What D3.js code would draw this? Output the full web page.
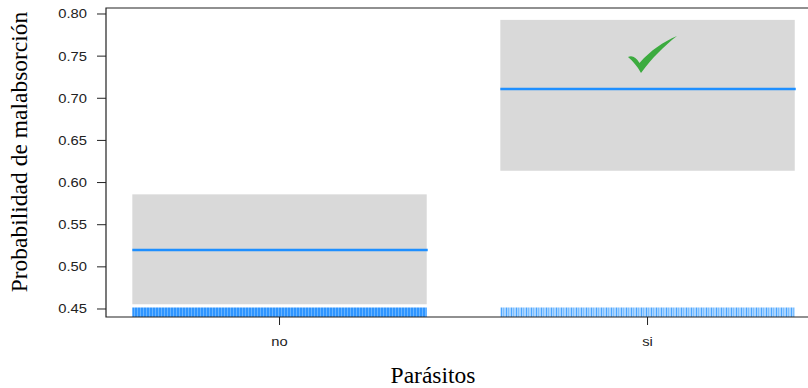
<!DOCTYPE html>
<html>
<head>
<meta charset="utf-8">
<script src="https://cdn.jsdelivr.net/npm/d3@7"></script>
<style>
  body { margin: 0; background: #fff; }
  svg { display: block; }
</style>
</head>
<body>
<svg id="chart" width="808" height="388"></svg>
<script>
// data
const categories = ["no", "si"];
const fit = [0.520, 0.711];
const lower = [0.4556, 0.614];
const upper = [0.586, 0.793];
const yTicks = [0.45, 0.50, 0.55, 0.60, 0.65, 0.70, 0.75, 0.80];

const svg = d3.select("#chart");

// panel box (right side runs off the canvas, like the original)
const panel = { left: 106, top: 8, right: 808, bottom: 317 };

const x = d3.scaleLinear().domain([0.5285, 2.436]).range([panel.left, panel.right]);
const y = d3.scaleLinear().domain([0.4405, 0.8071]).range([panel.bottom, panel.top]);
const half = 0.4; // half width of each effect box, in category units

// rug patterns
const defs = svg.append("defs");
const pNo = defs.append("pattern").attr("id", "rugNo")
  .attr("patternUnits", "userSpaceOnUse").attr("width", 3).attr("height", 10);
pNo.append("rect").attr("width", 3).attr("height", 10).attr("fill", "#2f95ff");
pNo.append("rect").attr("x", 2).attr("width", 1).attr("height", 10).attr("fill", "#66b3ff");
const pSi = defs.append("pattern").attr("id", "rugSi")
  .attr("patternUnits", "userSpaceOnUse").attr("width", 5).attr("height", 10);
pSi.append("rect").attr("width", 5).attr("height", 10).attr("fill", "#a9d4ff");
pSi.append("rect").attr("x", 1).attr("width", 1).attr("height", 10).attr("fill", "#4aa5ff");
pSi.append("rect").attr("x", 3).attr("width", 1).attr("height", 10).attr("fill", "#7cbfff");

// confidence boxes
svg.selectAll(".ci")
  .data(categories)
  .enter()
  .append("rect")
  .attr("class", "ci")
  .attr("x", (d, i) => x(i + 1 - half))
  .attr("width", (d, i) => x(i + 1 + half) - x(i + 1 - half))
  .attr("y", (d, i) => y(upper[i]))
  .attr("height", (d, i) => y(lower[i]) - y(upper[i]))
  .attr("fill", "#d9d9d9");

// rug along the bottom
svg.selectAll(".rug")
  .data(categories)
  .enter()
  .append("rect")
  .attr("class", "rug")
  .attr("x", (d, i) => x(i + 1 - half))
  .attr("width", (d, i) => x(i + 1 + half) - x(i + 1 - half))
  .attr("y", panel.bottom - 9.5)
  .attr("height", 9.5)
  .attr("fill", (d, i) => (i === 0 ? "url(#rugNo)" : "url(#rugSi)"));

// fitted lines
svg.selectAll(".fit")
  .data(categories)
  .enter()
  .append("line")
  .attr("class", "fit")
  .attr("x1", (d, i) => x(i + 1 - half))
  .attr("x2", (d, i) => x(i + 1 + half) + 1)
  .attr("y1", (d, i) => y(fit[i]))
  .attr("y2", (d, i) => y(fit[i]))
  .attr("stroke", "#1e8fff")
  .attr("stroke-width", 2.6);

// check mark on the "si" box
svg.append("path")
  .attr("d", "M628,57 C632,55 636,57 639.5,63 C651,50 663,42 677,36 C664,46 652,58 641,73 C637,66 633,61 628,57 Z")
  .attr("fill", "#3cab3f");

// panel frame
svg.append("path")
  .attr("d", `M${panel.right},${panel.top}H${panel.left}V${panel.bottom}H${panel.right}`)
  .attr("fill", "none")
  .attr("stroke", "#222")
  .attr("stroke-width", 1.2);

// y axis ticks + labels
const yAxis = svg.append("g");
yAxis.selectAll("line")
  .data(yTicks)
  .enter()
  .append("line")
  .attr("x1", panel.left - 9)
  .attr("x2", panel.left)
  .attr("y1", (d) => y(d))
  .attr("y2", (d) => y(d))
  .attr("stroke", "#222");
yAxis.selectAll("text")
  .data(yTicks)
  .enter()
  .append("text")
  .attr("transform", (d) => `translate(87, ${y(d) + 4.5}) scale(1.17, 1)`)
  .attr("text-anchor", "end")
  .style("font-family", "'Liberation Sans', Arial, sans-serif")
  .style("font-size", "12.6px")
  .attr("fill", "#222")
  .text((d) => d3.format(".2f")(d));

// x axis ticks + labels
const xAxis = svg.append("g");
xAxis.selectAll("line")
  .data(categories)
  .enter()
  .append("line")
  .attr("x1", (d, i) => x(i + 1))
  .attr("x2", (d, i) => x(i + 1))
  .attr("y1", panel.bottom)
  .attr("y2", panel.bottom + 8)
  .attr("stroke", "#222");
xAxis.selectAll("text")
  .data(categories)
  .enter()
  .append("text")
  .attr("transform", (d, i) => `translate(${x(i + 1)}, 346) scale(1.17, 1)`)
  .attr("text-anchor", "middle")
  .style("font-family", "'Liberation Sans', Arial, sans-serif")
  .style("font-size", "12.6px")
  .attr("fill", "#222")
  .text((d) => d);

// axis titles
svg.append("text")
  .attr("x", 433)
  .attr("y", 383)
  .attr("text-anchor", "middle")
  .style("font-family", "'Liberation Serif', 'Times New Roman', serif")
  .style("font-size", "23.5px")
  .text("Parásitos");

svg.append("text")
  .attr("transform", "translate(27, 152) rotate(-90)")
  .attr("text-anchor", "middle")
  .style("font-family", "'Liberation Serif', 'Times New Roman', serif")
  .style("font-size", "23.5px")
  .text("Probabilidad de malabsorción");
</script>
</body>
</html>
